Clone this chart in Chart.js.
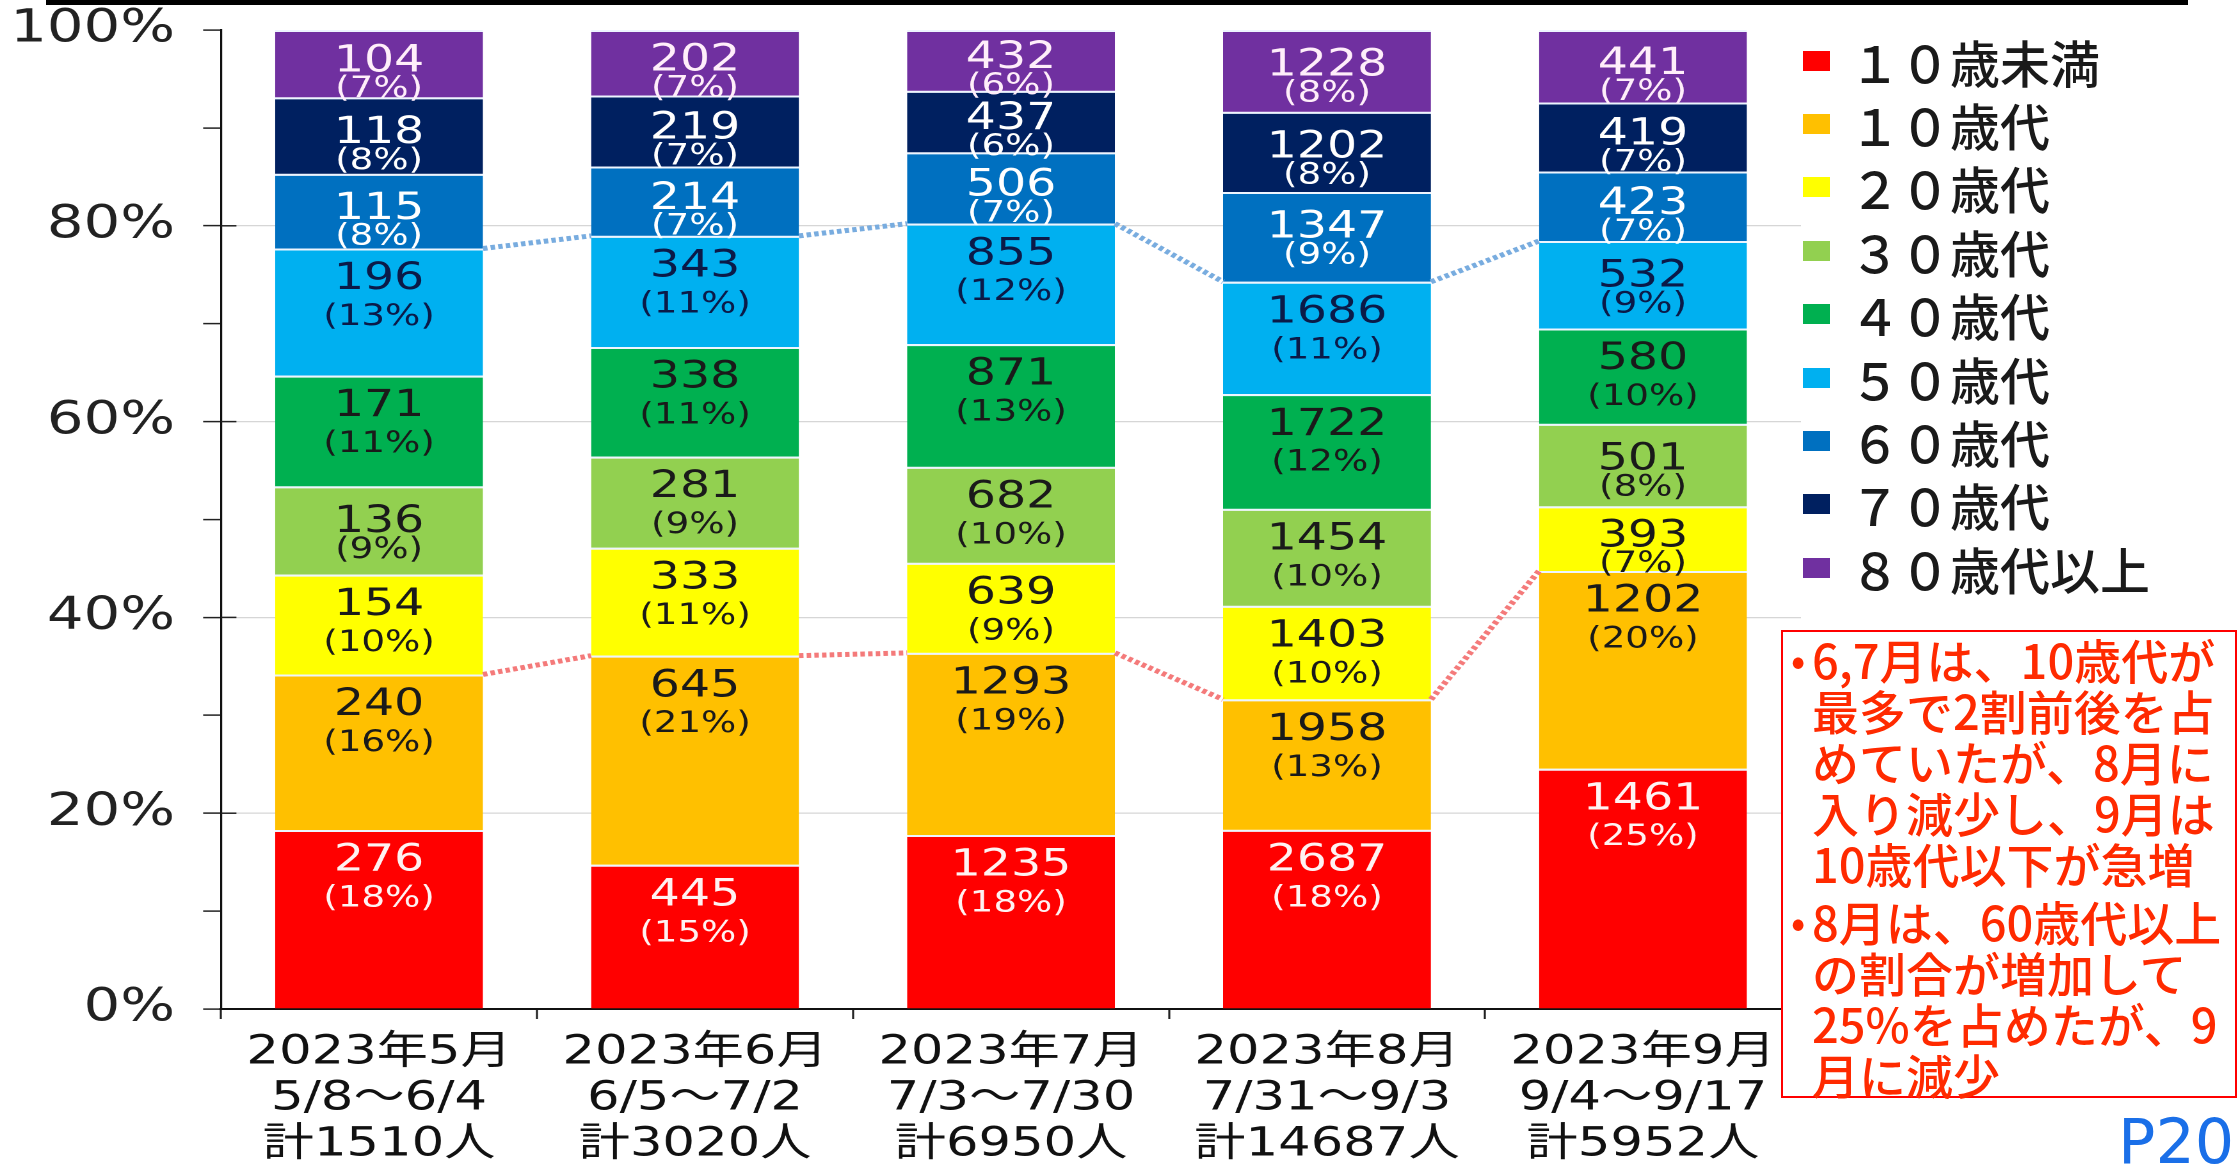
<!DOCTYPE html>
<html lang="ja">
<head>
<meta charset="utf-8">
<title>年代別 構成比</title>
<script src="https://cdn.jsdelivr.net/npm/chart.js@4.4.1/dist/chart.umd.min.js"></script>
<style>
  html, body { margin: 0; padding: 0; background: #fff; }
  body { position: relative; width: 2239px; height: 1167px; overflow: hidden; }
  #topline { position: absolute; left: 46px; top: 0; width: 2142px; height: 5px; background: #000; }
  /* the original chart image is stretched sideways, so the canvas is too */
  #wrap { position: absolute; left: 0; top: 0; width: 1410px; height: 1167px; transform: scaleX(1.28); transform-origin: 0 0; }
  #legend { position: absolute; left: 1803px; top: 29px; font-family: 'Noto Sans CJK JP', sans-serif; font-size: 50px; font-weight: 500; color: #1a1a1a; }
  #legend .item { display: flex; align-items: center; height: 63.4px; white-space: nowrap; }
  #legend .box { width: 27px; height: 20px; margin-right: 20px; flex: none; }
  #legend span { line-height: 1; }
  #note { position: absolute; left: 1781px; top: 630px; width: 456px; height: 468px; box-sizing: border-box;
          border: 2px solid #ff0000; background: #fff; color: #ff2a00; padding: 1px 0 0 29px;
          font-family: 'Noto Sans CJK JP', sans-serif; font-size: 47px; font-weight: 500; line-height: 51px; white-space: nowrap; }
  #note p { margin: 0; position: relative; }
  #note p + p { margin-top: 7px; }
  #note .dot { position: absolute; left: -21px; top: 0; font-size: 40px; }
  #page { position: absolute; left: 2118px; top: 1111px; font-family: 'DejaVu Sans', sans-serif; font-size: 62px; line-height: 62px; color: #1a6fe8; }
</style>
</head>
<body>
<div id="wrap"><canvas id="chart" width="1410" height="1167"></canvas></div>
<div id="topline"></div>
<div id="legend"></div>
<div id="note">
  <p><span class="dot">•</span>6,7月は、10歳代が<br>最多で2割前後を占<br>めていたが、8月に<br>入り減少し、9月は<br>10歳代以下が急増</p>
  <p><span class="dot">•</span>8月は、60歳代以上<br>の割合が増加して<br>25%を占めたが、9<br>月に減少</p>
</div>
<div id="page">P20</div>

<script>
// counts per age group, one value per period
const categories = [
  ['2023年5月', '5/8～6/4', '計1510人'],
  ['2023年6月', '6/5～7/2', '計3020人'],
  ['2023年7月', '7/3～7/30', '計6950人'],
  ['2023年8月', '7/31～9/3', '計14687人'],
  ['2023年9月', '9/4～9/17', '計5952人']
];
const ageGroups = ['１０歳未満', '１０歳代', '２０歳代', '３０歳代', '４０歳代', '５０歳代', '６０歳代', '７０歳代', '８０歳代以上'];

const under10 = [276, 445, 1235, 2687, 1461];
const teens = [240, 645, 1293, 1958, 1202];
const twenties = [154, 333, 639, 1403, 393];
const thirties = [136, 281, 682, 1454, 501];
const forties = [171, 338, 871, 1722, 580];
const fifties = [196, 343, 855, 1686, 532];
const sixties = [115, 214, 506, 1347, 423];
const seventies = [118, 219, 437, 1202, 419];
const eightiesPlus = [104, 202, 432, 1228, 441];

const yTickValues = [0, 20, 40, 60, 80, 100];

const seriesCounts = [under10, teens, twenties, thirties, forties, fifties, sixties, seventies, eightiesPlus];
const colors = ['#ff0000', '#ffc000', '#ffff00', '#92d050', '#00b050', '#00b0f0', '#0070c0', '#002060', '#7030a0'];
const labelColors = ['#fff2f2', '#1a1a1a', '#1a1a1a', '#1a1a1a', '#1a1a1a', '#0b1a48', '#ffffff', '#ffffff', '#ffeefa'];

const totals = categories.map((c, j) => seriesCounts.reduce((s, arr) => s + arr[j], 0));

// dotted series lines: top of 10歳代 (red) and top of 50歳代 (blue)
const seriesLines = [
  { index: 1, color: '#f47a7a' },
  { index: 5, color: '#78acdf' }
];

const seriesLinePlugin = {
  id: 'seriesLines',
  afterDatasetsDraw(chart) {
    const ctx = chart.ctx;
    ctx.save();
    ctx.lineWidth = 5;
    ctx.setLineDash([3.5, 2.5]);
    seriesLines.forEach(line => {
      const bars = chart.getDatasetMeta(line.index).data;
      ctx.strokeStyle = line.color;
      for (let j = 0; j < bars.length - 1; j++) {
        const a = bars[j], b = bars[j + 1];
        ctx.beginPath();
        ctx.moveTo(a.x + a.width / 2, a.y);
        ctx.lineTo(b.x - b.width / 2, b.y);
        ctx.stroke();
      }
    });
    ctx.restore();
  }
};

const barLabelPlugin = {
  id: 'barLabels',
  afterDatasetsDraw(chart) {
    const ctx = chart.ctx;
    ctx.save();
    ctx.textAlign = 'center';
    ctx.textBaseline = 'middle';
    chart.data.datasets.forEach((ds, i) => {
      chart.getDatasetMeta(i).data.forEach((bar, j) => {
        const top = Math.min(bar.y, bar.base);
        const h = Math.abs(bar.base - bar.y);
        const cy = top + Math.min(h / 2 + 12, 50);
        const gap = h < 90 ? 28 : 38;
        ctx.fillStyle = labelColors[i];
        ctx.font = "37px 'DejaVu Sans'";
        ctx.fillText(String(ds.counts[j]), bar.x, cy - gap / 2);
        ctx.font = "29px 'DejaVu Sans'";
        ctx.fillText('(' + Math.round(ds.data[j]) + '%)', bar.x, cy + gap / 2);
      });
    });
    ctx.restore();
  }
};

// the 20% ticks cross the axis a little to the right
const majorTickPlugin = {
  id: 'majorTicks',
  afterDraw(chart) {
    const y = chart.scales.y;
    const ctx = chart.ctx;
    ctx.save();
    ctx.strokeStyle = '#222';
    ctx.lineWidth = 1.5;
    yTickValues.filter(v => v > 0 && v < 100).forEach(v => {
      const py = y.getPixelForValue(v);
      ctx.beginPath();
      ctx.moveTo(y.right, py);
      ctx.lineTo(y.right + 12, py);
      ctx.stroke();
    });
    ctx.restore();
  }
};

// html legend on the right
const legendEl = document.getElementById('legend');
ageGroups.forEach((name, i) => {
  const item = document.createElement('div');
  item.className = 'item';
  item.innerHTML = `<div class="box" style="background:${colors[i]}"></div><span>${name}</span>`;
  legendEl.appendChild(item);
});

new Chart(document.getElementById('chart'), {
  type: 'bar',
  data: {
    labels: categories,
    datasets: seriesCounts.map((counts, i) => ({
      label: ageGroups[i],
      counts: counts,
      data: counts.map((v, j) => v / totals[j] * 100),
      backgroundColor: colors[i],
      borderColor: 'rgba(235, 244, 255, 0.9)',
      borderWidth: { top: 2, right: 0, bottom: 0, left: 0 },
      barPercentage: 0.658,
      categoryPercentage: 1
    }))
  },
  options: {
    responsive: false,
    devicePixelRatio: 2,
    animation: false,
    layout: { padding: { top: 30, right: 3, bottom: 0, left: 0 } },
    plugins: {
      legend: { display: false },
      tooltip: { enabled: false }
    },
    scales: {
      x: {
        stacked: true,
        grid: { offset: true, drawOnChartArea: false, tickLength: 10, tickColor: '#222', tickWidth: 1.6 },
        border: { color: '#111', width: 2 },
        ticks: {
          color: '#111',
          padding: 11,
          maxRotation: 0,
          autoSkip: false,
          font: { family: "'DejaVu Sans', 'Noto Sans CJK JP'", size: 40, lineHeight: 1.15 }
        },
        afterFit: scale => { scale.height = 158; }
      },
      y: {
        stacked: true,
        min: 0,
        max: 100,
        grid: {
          color: ctx => (yTickValues.includes(ctx.tick.value) && ctx.tick.value > 0 && ctx.tick.value < 100) ? '#d6d6d6' : 'rgba(0,0,0,0)',
          lineWidth: 1.2,
          tickLength: 14,
          tickColor: '#222',
          tickWidth: 1.5
        },
        border: { color: '#111', width: 1.6 },
        ticks: {
          stepSize: 10,
          padding: 22,
          color: '#222',
          font: { family: "'DejaVu Sans'", size: 45, lineHeight: 1.2 },
          callback: value => yTickValues.includes(value) ? value + '%' : ''
        },
        afterFit: scale => {
          scale.width = 172.7;
          scale.paddingTop = 0;
          scale.paddingBottom = 0;
        }
      }
    }
  },
  plugins: [seriesLinePlugin, barLabelPlugin, majorTickPlugin]
});
</script>
</body>
</html>
